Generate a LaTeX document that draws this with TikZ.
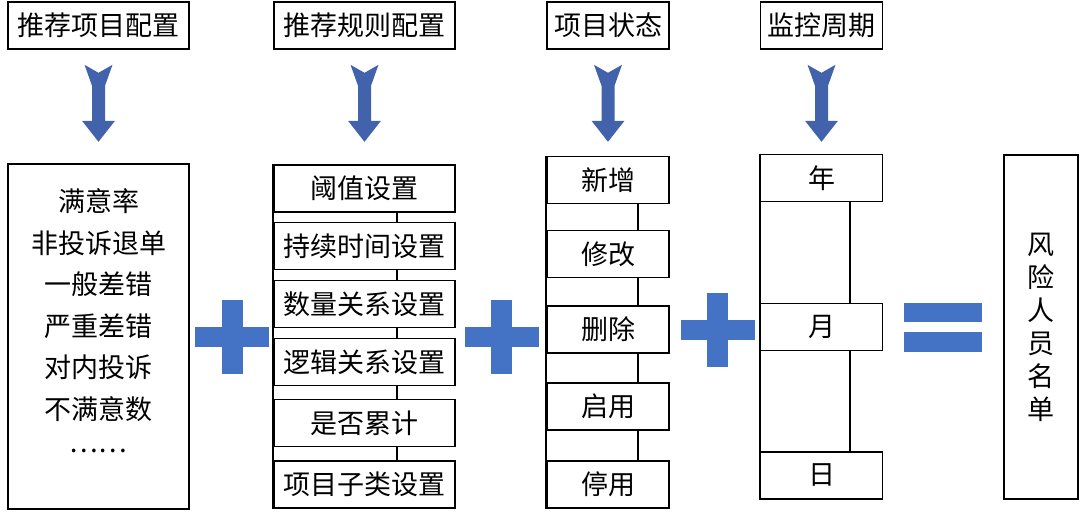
\documentclass[tikz,border=0pt]{standalone}
\usepackage{tikz}
\usepackage{xcolor}
\usepackage{fontspec}
\newfontfamily\cjk{Noto Sans CJK SC}
\definecolor{arrowblue}{RGB}{66,99,172}
\definecolor{signblue}{RGB}{68,114,196}

\begin{document}
\begin{tikzpicture}[x=1pt,y=-1pt,
	box/.style={draw, line width=1.6pt, inner sep=0pt, font=\cjk\fontsize{27}{32}\selectfont},
	wide/.style={box, minimum width=181pt, minimum height=47pt},
	narrow/.style={box, minimum width=122pt, minimum height=47pt},
	link/.style={line width=1.6pt}]
	
	\useasboundingbox (0,0) rectangle (1080,514);
	
	% headers
	\node[wide] (h1) at (98.5,25.5) {推荐项目配置};
	\node[wide] (h2) at (364.5,25.5) {推荐规则配置};
	\node[narrow] (h3) at (608,25.5) {项目状态};
	\node[narrow] (h4) at (821.5,25.5) {监控周期};
	
	\foreach \h in {h1,h2,h3,h4}
	{
		\fill[arrowblue, shift={(\h.south)}] (-14,15) -- (0,23) -- (14,15) -- (6.5,36) -- (6.5,71) -- (16.5,71) -- (0,92) -- (-16.5,71) -- (-6.5,71) -- (-6.5,36) -- cycle;
	}
	
	% items
	\node[box, minimum width=181pt, minimum height=345pt] (items) at (98.5,336.5) {};
	\node[font=\cjk\fontsize{27}{41.5}\selectfont, align=center] (itemtext) at (98.5,325) {满意率\\非投诉退单\\一般差错\\严重差错\\对内投诉\\不满意数\\\raisebox{0.3em}{……}};
	
	% rules
	\node[wide] (r1) at (364.5,188.5) {阈值设置};
	\node[wide] (r2) at (364.5,246) {持续时间设置};
	\node[wide] (r3) at (364.5,304) {数量关系设置};
	\node[wide] (r4) at (364.5,362) {逻辑关系设置};
	\node[wide] (r5) at (364.5,423) {是否累计};
	\node[wide] (r6) at (364.5,484.5) {项目子类设置};
	\coordinate (rx) at (397,0);
	\foreach \a/\b in {r1/r2,r2/r3,r3/r4,r4/r5,r5/r6}
	\draw[link] (\a.south -| rx) -- (\b.north -| rx);
	\draw[link] (r1.north west) -- (r6.south west);
	
	% states
	\node[narrow] (s1) at (608,180) {新增};
	\node[narrow] (s2) at (608,254) {修改};
	\node[narrow] (s3) at (608,329.5) {删除};
	\node[narrow] (s4) at (608,406.5) {启用};
	\node[narrow] (s5) at (608,484.5) {停用};
	\coordinate (sx) at (638,0);
	\foreach \a/\b in {s1/s2,s2/s3,s3/s4,s4/s5}
	\draw[link] (\a.south -| sx) -- (\b.north -| sx);
	\draw[link] (s1.north west) -- (s5.south west);
	
	% periods
	\node[narrow] (p1) at (821.5,178) {年};
	\node[narrow] (p2) at (821.5,327) {月};
	\node[narrow] (p3) at (821.5,475.5) {日};
	\coordinate (px) at (850,0);
	\foreach \a/\b in {p1/p2,p2/p3}
	\draw[link] (\a.south -| px) -- (\b.north -| px);
	\draw[link] (p1.north west) -- (p3.south west);
	
	% result
	\node[box, minimum width=74pt, minimum height=344pt, align=center, font=\cjk\fontsize{27}{33}\selectfont] (res) at (1041,327) {风\\险\\人\\员\\名\\单};
	
	% signs
	\foreach \cx/\cy in {232/337,501.5/337,717.5/329.5}
	{
		\fill[signblue] (\cx-37,\cy-10) rectangle (\cx+37,\cy+10);
		\fill[signblue] (\cx-10.5,\cy-37) rectangle (\cx+10.5,\cy+37);
	}
	\fill[signblue] (904,303) rectangle (982,322);
	\fill[signblue] (904,332) rectangle (982,352);
\end{tikzpicture}
\end{document}
